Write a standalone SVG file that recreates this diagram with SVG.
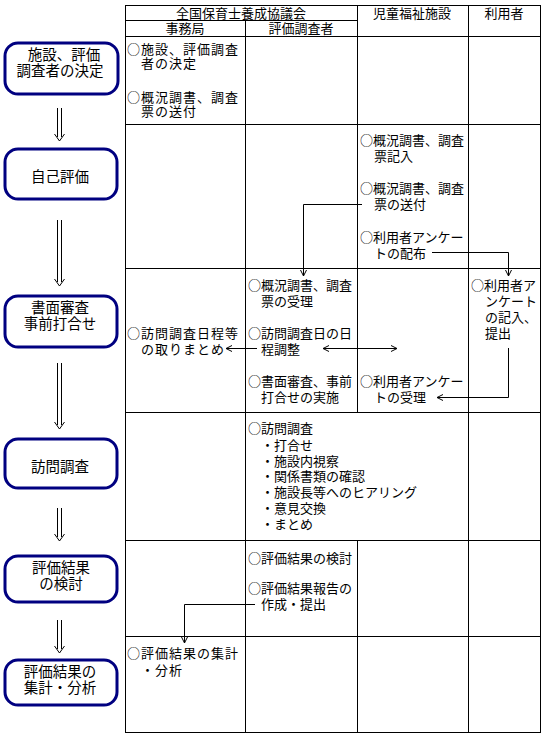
<svg xmlns="http://www.w3.org/2000/svg" width="545" height="737" viewBox="0 0 545 737">
<defs>
<style>
.t{font-family:"Noto Sans CJK JP","Noto Sans CJK SC",sans-serif;font-size:13px;fill:#000}
.w{letter-spacing:1px}
.c{text-anchor:middle}
.n{font-family:"Noto Sans CJK JP","Noto Sans CJK SC",sans-serif;font-size:14.5px;fill:#000;text-anchor:middle}
.box{fill:#fff;stroke:#000080;stroke-width:3}
.grid line,.grid rect{stroke:#000;stroke-width:1;fill:none}
.con{fill:none;stroke:#000;stroke-width:1}
.dbl{fill:none;stroke:#000;stroke-width:1}
</style>
<marker id="ah" markerWidth="8" markerHeight="8" refX="6" refY="4" orient="auto-start-reverse" markerUnits="userSpaceOnUse">
<polyline points="0,1 6,4 0,7" fill="none" stroke="#000" stroke-width="1"/>
</marker>
</defs>
<rect width="545" height="737" fill="#fff"/>
<g id="table" class="grid">
<rect x="125.5" y="5.5" width="415" height="727"/>
<line x1="125" y1="20.5" x2="357" y2="20.5"/>
<line x1="125" y1="36.5" x2="540" y2="36.5"/>
<line x1="125" y1="124.5" x2="540" y2="124.5"/>
<line x1="125" y1="268.5" x2="540" y2="268.5"/>
<line x1="125" y1="412.5" x2="540" y2="412.5"/>
<line x1="125" y1="540.5" x2="540" y2="540.5"/>
<line x1="125" y1="636.5" x2="540" y2="636.5"/>
<line x1="245.5" y1="20" x2="245.5" y2="732"/>
<line x1="357.5" y1="5" x2="357.5" y2="412"/>
<line x1="357.5" y1="540" x2="357.5" y2="732"/>
<line x1="468.5" y1="5" x2="468.5" y2="732"/>
</g>
<g id="headers">
<text class="t c" x="241" y="18">全国保育士養成協議会</text>
<text class="t c" x="185" y="33">事務局</text>
<text class="t c" x="301" y="33">評価調査者</text>
<text class="t c" x="412" y="18">児童福祉施設</text>
<text class="t c" x="504" y="18">利用者</text>
</g>
<g id="n1">
<rect class="box" x="5" y="43" width="113" height="51" rx="13"/>
<text class="n"><tspan x="64" y="60">施設、評価</tspan><tspan x="60" y="76">調査者の決定</tspan></text>
</g>
<g id="n2">
<rect class="box" x="5" y="149" width="112" height="50" rx="13"/>
<text class="n" x="60" y="182">自己評価</text>
</g>
<g id="n3">
<rect class="box" x="5" y="296" width="112" height="51" rx="13"/>
<text class="n"><tspan x="60" y="313">書面審査</tspan><tspan x="60" y="329">事前打合せ</tspan></text>
</g>
<g id="n4">
<rect class="box" x="5" y="439" width="112" height="49" rx="13"/>
<text class="n" x="60" y="472">訪問調査</text>
</g>
<g id="n5">
<rect class="box" x="5" y="556" width="112" height="46" rx="13"/>
<text class="n"><tspan x="61" y="573">評価結果</tspan><tspan x="61" y="589">の検討</tspan></text>
</g>
<g id="n6">
<rect class="box" x="5" y="660" width="112" height="45" rx="13"/>
<text class="n"><tspan x="60" y="677">評価結果の</tspan><tspan x="60" y="693">集計・分析</tspan></text>
</g>
<g id="cells">
<text class="t w"><tspan x="127" y="54">○施設、評価調査</tspan><tspan x="141" y="68">者の決定</tspan></text>
<text class="t w"><tspan x="127" y="102">○概況調書、調査</tspan><tspan x="141" y="116">票の送付</tspan></text>
<text class="t"><tspan x="360" y="145">○概況調書、調査</tspan><tspan x="374" y="161">票記入</tspan></text>
<text class="t"><tspan x="360" y="193">○概況調書、調査</tspan><tspan x="374" y="209">票の送付</tspan></text>
<text class="t"><tspan x="360" y="242">○利用者アンケー</tspan><tspan x="374" y="258">トの配布</tspan></text>
<text class="t"><tspan x="248" y="290">○概況調書、調査</tspan><tspan x="261" y="306">票の受理</tspan></text>
<text class="t"><tspan x="248" y="338">○訪問調査日の日</tspan><tspan x="261" y="354">程調整</tspan></text>
<text class="t"><tspan x="248" y="386">○書面審査、事前</tspan><tspan x="261" y="402">打合せの実施</tspan></text>
<text class="t w"><tspan x="127" y="338">○訪問調査日程等</tspan><tspan x="141" y="354">の取りまとめ</tspan></text>
<text class="t"><tspan x="360" y="386">○利用者アンケー</tspan><tspan x="374" y="402">トの受理</tspan></text>
<text class="t"><tspan x="471" y="290">○利用者ア</tspan><tspan x="485" y="306">ンケート</tspan><tspan x="485" y="322">の記入、</tspan><tspan x="485" y="338">提出</tspan></text>
<text class="t"><tspan x="248" y="433">○訪問調査</tspan><tspan x="261" y="450">・打合せ</tspan><tspan x="261" y="466">・施設内視察</tspan><tspan x="261" y="481">・関係書類の確認</tspan><tspan x="261" y="497">・施設長等へのヒアリング</tspan><tspan x="261" y="513">・意見交換</tspan><tspan x="261" y="529">・まとめ</tspan></text>
<text class="t" x="248" y="563">○評価結果の検討</text>
<text class="t"><tspan x="248" y="593">○評価結果報告の</tspan><tspan x="261" y="609">作成・提出</tspan></text>
<text class="t w"><tspan x="127" y="658">○評価結果の集計</tspan><tspan x="141" y="675">・分析</tspan></text>
</g>
<g id="connectors">
<polyline class="con" points="362,204.5 303.5,204.5 303.5,276" marker-end="url(#ah)"/>
<polyline class="con" points="432,252.5 508.5,252.5 508.5,276" marker-end="url(#ah)"/>
<line class="con" x1="257" y1="348.5" x2="226" y2="348.5" marker-end="url(#ah)"/>
<line class="con" x1="323" y1="348.5" x2="397" y2="348.5" marker-start="url(#ah)" marker-end="url(#ah)"/>
<polyline class="con" points="508.5,348 508.5,397.5 437,397.5" marker-end="url(#ah)"/>
<polyline class="con" points="255,604.5 184.5,604.5 184.5,643" marker-end="url(#ah)"/>
<g class="dbl">
<path d="M57.5,108V137M61.5,108V137M54.5,134L59.5,141L64.5,134"/>
<path d="M57.5,220V282M61.5,220V282M54.5,279L59.5,286L64.5,279"/>
<path d="M57.5,363V425M61.5,363V425M54.5,422L59.5,429L64.5,422"/>
<path d="M57.5,508V537M61.5,508V537M54.5,534L59.5,541L64.5,534"/>
<path d="M57.5,620V649M61.5,620V649M54.5,646L59.5,653L64.5,646"/>
</g>
</g>
</svg>
